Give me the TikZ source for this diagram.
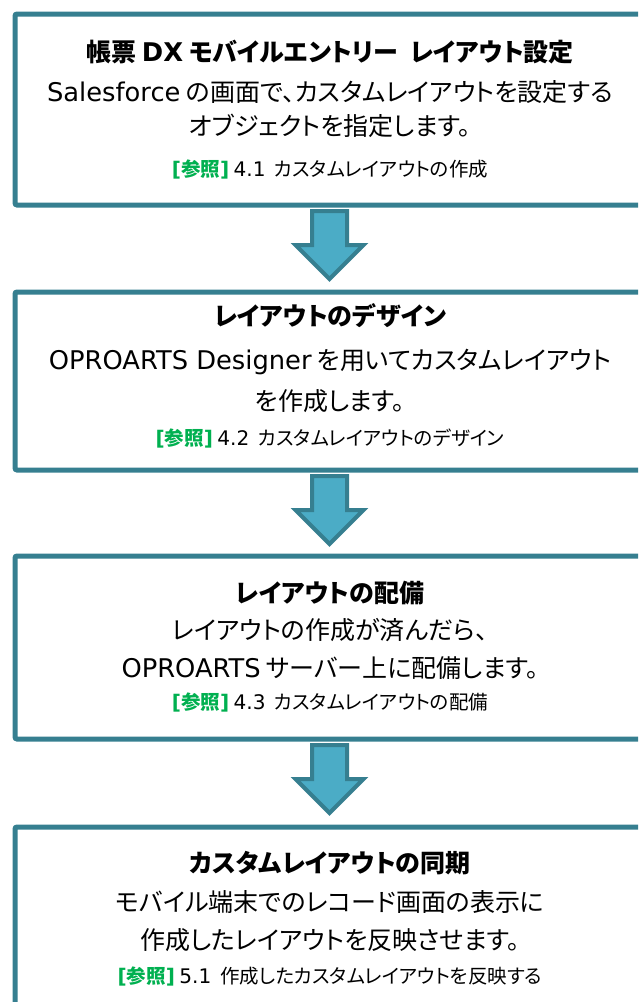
\documentclass[tikz,border=0pt]{standalone}
\usepackage{fontspec}
\setmainfont{Noto Sans CJK JP}[RawFeature=+palt]
\newfontfamily\lat{DejaVu Sans}[Scale=1.03]
\definecolor{boxline}{RGB}{54,127,144}
\definecolor{arrowfill}{RGB}{75,172,198}
\definecolor{refgreen}{RGB}{0,176,80}
\newcommand{\refmark}{{\color{refgreen}\bfseries{\lat [}参照{\lat ]}}}
\tikzset{
  stepbox/.style={draw=boxline, line width=5pt, rounded corners=2pt, fill=white, anchor=north west, inner sep=0pt},
  titletext/.style={anchor=base, font=\fontsize{25}{30}\selectfont\bfseries, inner sep=0pt},
  bodytext/.style={anchor=base, font=\fontsize{25}{30}\selectfont, inner sep=0pt},
  reftext/.style={anchor=base, font=\fontsize{19.5}{23}\selectfont, inner sep=0pt},
  downarrow/.pic={\draw[draw=boxline, fill=arrowfill, line width=4pt, line join=miter]
     (-17.5,0) -- (17.5,0) -- (17.5,34) -- (34,34) -- (0,68) -- (-34,34) -- (-17.5,34) -- cycle;}
}
\begin{document}
\begin{tikzpicture}[x=1pt,y=-1pt]
\useasboundingbox (0,0) rectangle (638,1002);
\clip (0,0) rectangle (638,1002);
% boxes
\node[stepbox, minimum width=700pt, minimum height=191pt] (b1) at (12.5,11.5) {};
\node[stepbox, minimum width=700pt, minimum height=178pt] (b2) at (12.5,289.5) {};
\node[stepbox, minimum width=700pt, minimum height=183pt] (b3) at (12.5,553.5) {};
\node[stepbox, minimum width=700pt, minimum height=240pt] (b4) at (12.5,824.5) {};
% arrows
\pic (a1) at (329.5,211) {downarrow};
\pic (a2) at (329.5,476) {downarrow};
\pic (a3) at (329.5,745) {downarrow};
% box 1
\node[titletext] (t1) at (330,61) {帳票 {\lat DX} モバイルエントリー\hspace{0.5em}レイアウト設定};
\node[bodytext] (t1a) at (330,101.5) {{\lat Salesforce} の画面で、カスタムレイアウトを設定する};
\node[bodytext] (t1b) at (330,135.5) {オブジェクトを指定します。};
\node[reftext] (r1) at (330,176) {\refmark\ {\lat 4.1}\ \ カスタムレイアウトの作成};
% box 2
\node[titletext] (t2) at (330,325) {レイアウトのデザイン};
\node[bodytext] (t2a) at (330,369.5) {{\lat OPROARTS Designer} を用いてカスタムレイアウト};
\node[bodytext] (t2b) at (330,410.5) {を作成します。};
\node[reftext] (r2) at (330,445) {\refmark\ {\lat 4.2}\ \ カスタムレイアウトのデザイン};
% box 3
\node[titletext] (t3) at (330,602) {レイアウトの配備};
\node[bodytext] (t3a) at (330,639.5) {レイアウトの作成が済んだら、};
\node[bodytext] (t3b) at (330,677.5) {{\lat OPROARTS} サーバー上に配備します。};
\node[reftext] (r3) at (330,709) {\refmark\ {\lat 4.3}\ \ カスタムレイアウトの配備};
% box 4
\node[titletext] (t4) at (330,872) {カスタムレイアウトの同期};
\node[bodytext] (t4a) at (330,911.5) {モバイル端末でのレコード画面の表示に};
\node[bodytext] (t4b) at (330,949.5) {作成したレイアウトを反映させます。};
\node[reftext] (r4) at (330,983) {\refmark\ {\lat 5.1}\ \ 作成したカスタムレイアウトを反映する};
\end{tikzpicture}
\end{document}
